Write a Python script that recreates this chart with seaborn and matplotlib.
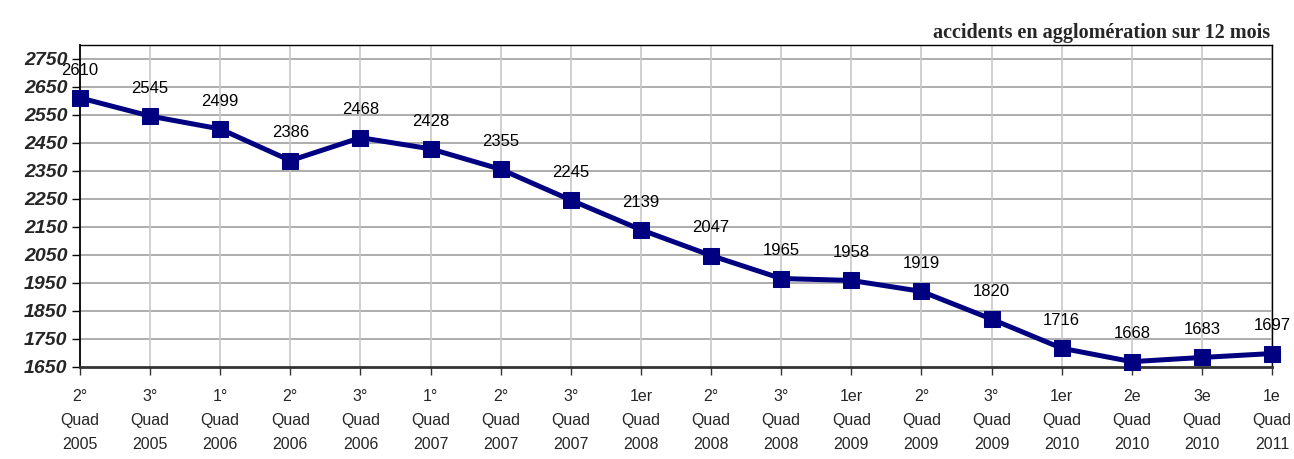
import numpy as np
import pandas as pd
import seaborn as sns
import matplotlib
matplotlib.use("Agg")
import matplotlib.pyplot as plt

quads = ["2°", "3°", "1°", "2°", "3°", "1°", "2°", "3°", "1er",
         "2°", "3°", "1er", "2°", "3°", "1er", "2e", "3e", "1e"]
years = ["2005", "2005", "2006", "2006", "2006", "2007", "2007", "2007", "2008",
         "2008", "2008", "2009", "2009", "2009", "2010", "2010", "2010", "2011"]
accidents = [2610, 2545, 2499, 2386, 2468, 2428, 2355, 2245, 2139,
             2047, 1965, 1958, 1919, 1820, 1716, 1668, 1683, 1697]
yticks = list(range(1650, 2751, 100))

labels = [q + "\nQuad\n" + y for q, y in zip(quads, years)]
df = pd.DataFrame({"pos": np.arange(len(accidents)), "val": accidents})

sns.set_style("white")
plt.rcParams['font.family'] = ['Liberation Sans', 'DejaVu Sans']

fig = plt.figure(figsize=(12.94, 4.59), dpi=100)
ax = fig.add_axes([80/1294, 1 - 366.7/459, (1272-80)/1294, (366.7-44.7)/459])

sns.lineplot(data=df, x="pos", y="val", ax=ax, color="#000080", linewidth=3.6,
             marker="s", markersize=11, markeredgecolor="#000080", zorder=3,
             clip_on=False)

# data labels
for x, v in zip(df["pos"], df["val"]):
    ax.annotate(str(v), (x, v), xytext=(0, 20), textcoords="offset points",
                ha="center", va="center", fontsize=12, color="black", zorder=4)

ax.set_xlim(0, len(accidents) - 1)
ax.set_ylim(1650, 2800)
ax.set_yticks(yticks)
ax.set_yticklabels([str(t) for t in yticks], fontsize=14, fontweight="bold", style="italic")
ax.set_xticks(df["pos"])
ax.set_xticklabels(labels, fontsize=11.5, linespacing=1.75)
ax.set_xlabel("")
ax.set_ylabel("")

# grid
for t in yticks[1:]:
    ax.axhline(t, color="#a0a0a0", linewidth=1.2, zorder=1)
for x in df["pos"][1:]:
    ax.axvline(x, color="#c8c8c8", linewidth=1.2, zorder=1)

for s in ["top", "right"]:
    ax.spines[s].set_color("black")
    ax.spines[s].set_linewidth(1.0)
ax.spines["left"].set_color("black")
ax.spines["left"].set_linewidth(1.3)
ax.spines["bottom"].set_color("#333333")
ax.spines["bottom"].set_linewidth(2)

ax.tick_params(axis="y", direction="out", length=6, width=1, color="black", pad=3, left=True)
ax.tick_params(axis="x", direction="out", length=6, width=1, color="#333333", pad=10, bottom=True)

fig.text(1270/1294, 1 - 33/459, "accidents en agglomération sur 12 mois",
         ha="right", va="center", fontsize=14.5, fontweight="bold",
         family=["Liberation Serif", "DejaVu Serif"])

fig.savefig("out.png", dpi=100)
